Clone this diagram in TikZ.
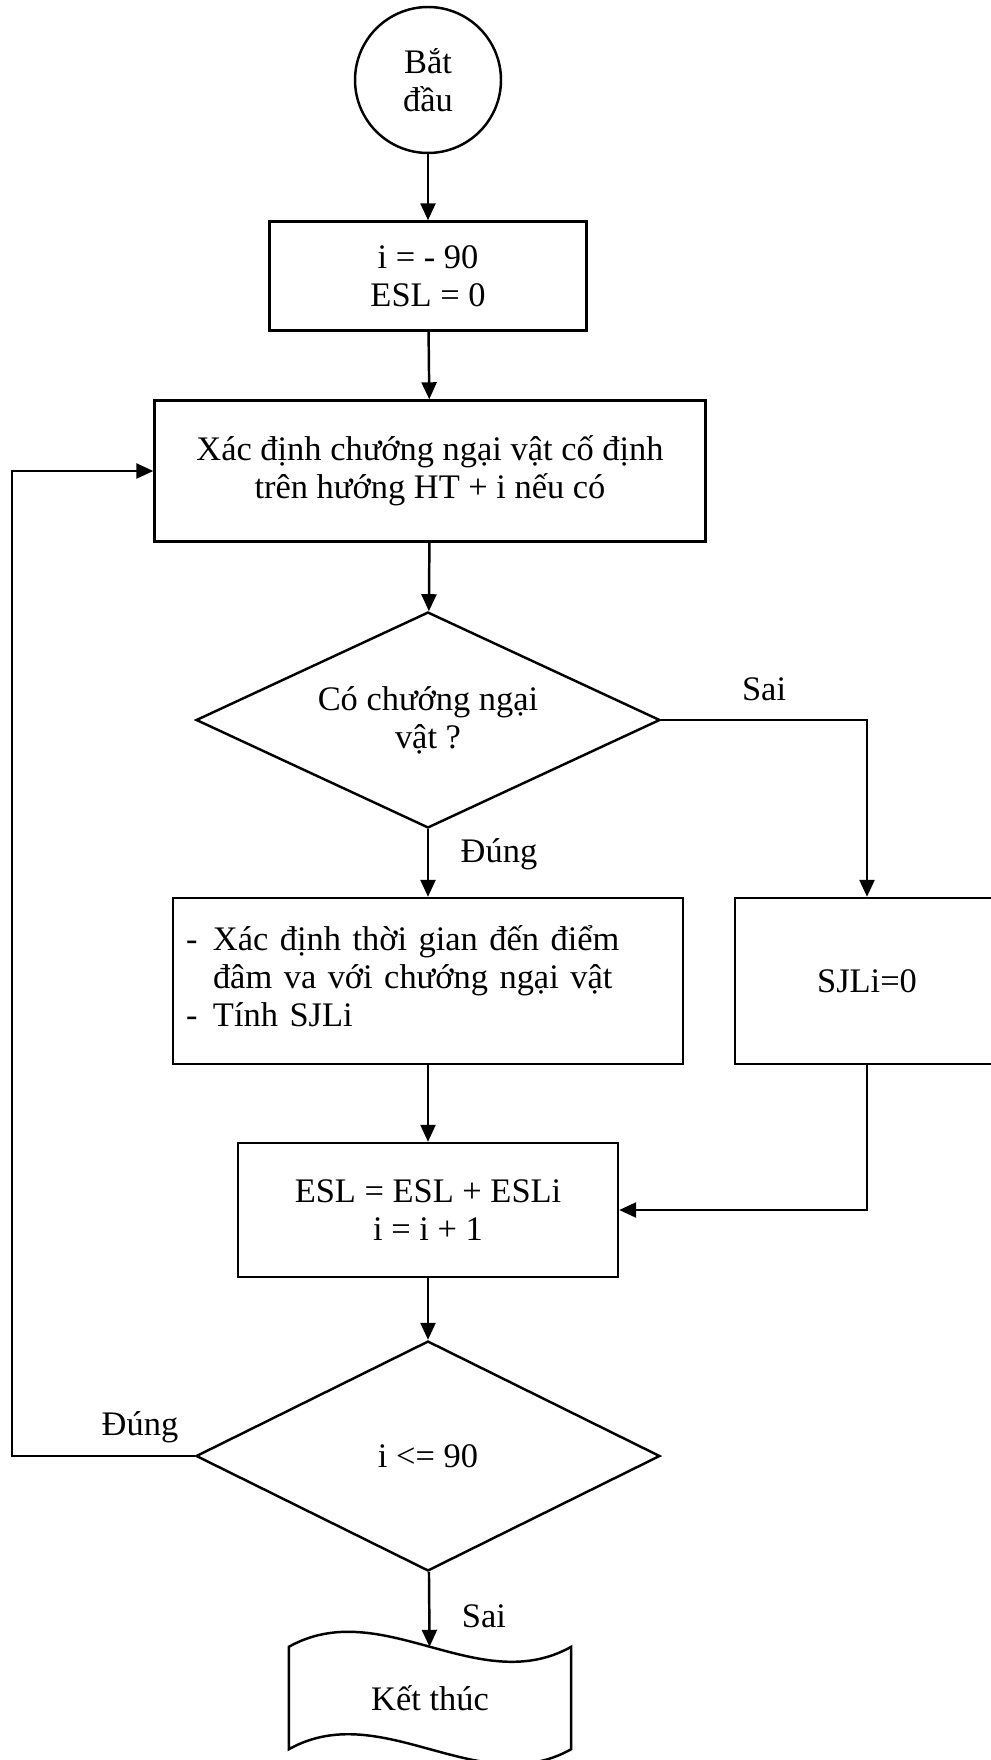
\documentclass[tikz,border=0pt]{standalone}
\usepackage{fontspec}
\setmainfont{Liberation Serif}
\usetikzlibrary{arrows.meta,positioning,shapes.geometric}

\begin{document}
\begin{tikzpicture}[
  x=0.02cm, y=-0.02cm,
  line width=1.4pt,
  font=\fontsize{19.6}{21.6}\selectfont,
  startnode/.style={circle, draw, minimum size=2.92cm, inner sep=0pt, align=center},
  proc/.style={rectangle, draw, inner sep=0pt, align=center},
  decision/.style={diamond, draw, aspect=2.15, inner sep=0pt, align=center, minimum width=9.28cm, minimum height=4.32cm},
  endnode/.style={rectangle, inner sep=0pt, minimum width=5.6cm, minimum height=2cm},
  lbl/.style={inner sep=0.23cm},
  arr/.style={-{Triangle[length=0.34cm, width=0.3cm]}}
]
\useasboundingbox (0,0) rectangle (990,1760);

\node[startnode] (start) at (428,80) {Bắt\\đầu};
\node[proc, minimum width=6.34cm, minimum height=2.18cm] (init) at (428,276) {i = - 90\\ESL = 0};
\node[proc, minimum width=11.02cm, minimum height=2.82cm] (scan) at (430,471) {Xác định chướng ngại vật cố định\\trên hướng HT + i nếu có};
\node[decision] (hasobs) at (428,720) {Có chướng ngại\\vật ?};
\node[proc, text width=9.68cm, inner xsep=0.26cm, minimum height=3.32cm, align=left] (calc) at (428,981) {\begin{tabular}{@{}l@{\hspace{0.45em}}l@{}}- & Xác định thời gian đến điểm\\ & đâm va với chướng ngại vật\\- & Tính SJLi\end{tabular}};
\node[proc, minimum width=5.28cm, minimum height=3.32cm] (zero) at (867,981) {SJLi=0};
\node[proc, minimum width=7.6cm, minimum height=2.68cm] (accum) at (428,1210) {ESL = ESL + ESLi\\i = i + 1};
\node[decision, minimum height=4.6cm] (more) at (428,1456) {i <= 90};
\node[endnode] (stop) at (430,1698) {Kết thúc};
\coordinate (back) at (12,1456);

\draw (stop.north west) .. controls +(93,-52) and +(-93,52) .. (stop.north east)
  -- (stop.south east) .. controls +(-93,52) and +(93,-52) .. (stop.south west) -- cycle;

\draw[arr] (start) -- (init);
\draw[arr] (init) -- (scan);
\draw[arr] (scan) -- (hasobs);
\draw[arr] (hasobs.east) -- node[lbl, above=0.12cm] {Sai} (hasobs.east -| zero.north) -- (zero.north);
\draw[arr] (hasobs) -- node[lbl, right=0.4cm, yshift=0.18cm] {Đúng} (calc);
\draw[arr] (calc) -- (accum);
\draw[arr] (zero.south) |- (accum.east);
\draw[arr] (accum) -- (more);
\draw[arr] (more.west) -- node[lbl, above=0cm, pos=0.3] {Đúng} (back) |- (scan.west);
\draw[arr] (more) -- node[lbl, right=0.4cm, yshift=-0.14cm] {Sai} (stop);
\end{tikzpicture}
\end{document}
